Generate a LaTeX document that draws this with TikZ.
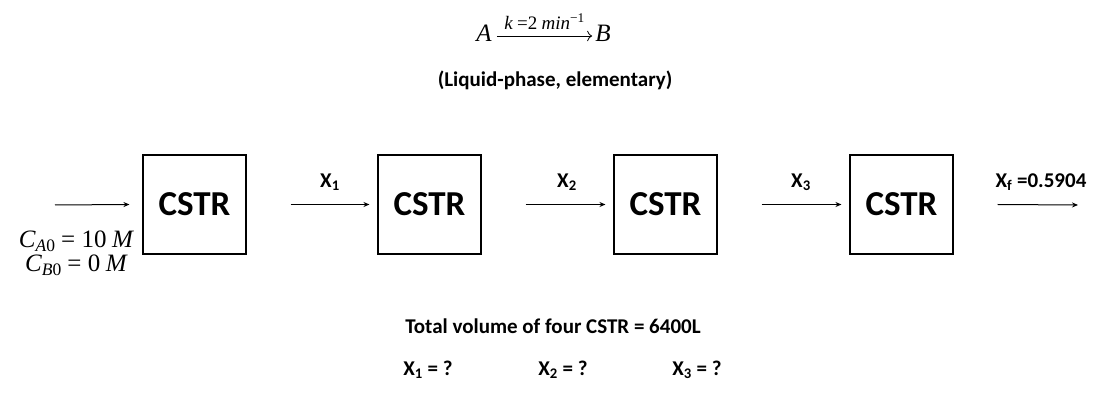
\documentclass[tikz,border=0pt]{standalone}
\usetikzlibrary{arrows.meta}
\usepackage{fontspec}
\setmainfont{Carlito}
\newfontfamily\mf{Liberation Serif}
\newcommand{\mi}[1]{{\mf\itshape #1}}
\newcommand{\mr}[1]{{\mf #1}}
\tikzset{x=1pt,y=-1pt,
 box/.style={draw,line width=1.1pt,minimum width=103pt,minimum height=99pt,inner sep=0pt,font=\bfseries\fontsize{35}{38}\selectfont},
 lab/.style={font=\bfseries\fontsize{21}{23}\selectfont},
 mt/.style={font=\fontsize{25}{27}\selectfont,inner sep=1pt},
 arr/.style={-{Stealth[length=6pt,width=5pt]},line width=1pt}}
\begin{document}
\begin{tikzpicture}
\useasboundingbox (0,0) rectangle (1120,403);
\node[mt] (ra) at (484,33) {\mi{A}};
\node[mt] (rb) at (603,33) {\mi{B}};
\draw[-{To[length=5pt]},line width=0.8pt] ([xshift=4pt,yshift=-3pt]ra.east) -- node[above=3pt,font=\fontsize{19}{21}\selectfont]{\mi{k} \mr{=2} \mi{min}\textsuperscript{\mr{−1}}} ([xshift=-2pt,yshift=-3pt]rb.west);
\node[lab] (lp) at (555,80) {(Liquid-phase, elementary)};
\node[box] (c1) at (194.5,204.5) {CSTR};
\node[box] (c2) at (429.5,204.5) {CSTR};
\node[box] (c3) at (665.5,204.5) {CSTR};
\node[box] (c4) at (901.5,204.5) {CSTR};
\coordinate (in) at (55,205);
\coordinate (out) at (1078,205);
\draw[arr] (in) -- ([xshift=-13pt]c1.west);
\draw[arr] ([xshift=44pt]c1.east) -- ([xshift=-8pt]c2.west);
\draw[arr] ([xshift=44pt]c2.east) -- ([xshift=-8pt]c3.west);
\draw[arr] ([xshift=44pt]c3.east) -- ([xshift=-8pt]c4.west);
\draw[arr] ([xshift=44pt]c4.east) -- (out);
\node[lab] (x1) at (330,182) {X\textsubscript{1}};
\node[lab] (x2) at (567,182) {X\textsubscript{2}};
\node[lab] (x3) at (801,182) {X\textsubscript{3}};
\node[lab] (xf) at (1041,182) {X\textsubscript{f} =0.5904};
\node[mt,align=center] (feed) at (76,253) {\mi{C}\textsubscript{\mi{A}\mr{0}} \mr{= 10} \mi{M}\\[-3pt]\mi{C}\textsubscript{\mi{B}\mr{0}} \mr{= 0} \mi{M}};
\node[lab] (tv) at (553,326) {Total volume of four CSTR = 6400L};
\node[lab] (q1) at (428,370) {X\textsubscript{1} = ?};
\node[lab] (q2) at (563,370) {X\textsubscript{2} = ?};
\node[lab] (q3) at (697,370) {X\textsubscript{3} = ?};
\end{tikzpicture}
\end{document}
